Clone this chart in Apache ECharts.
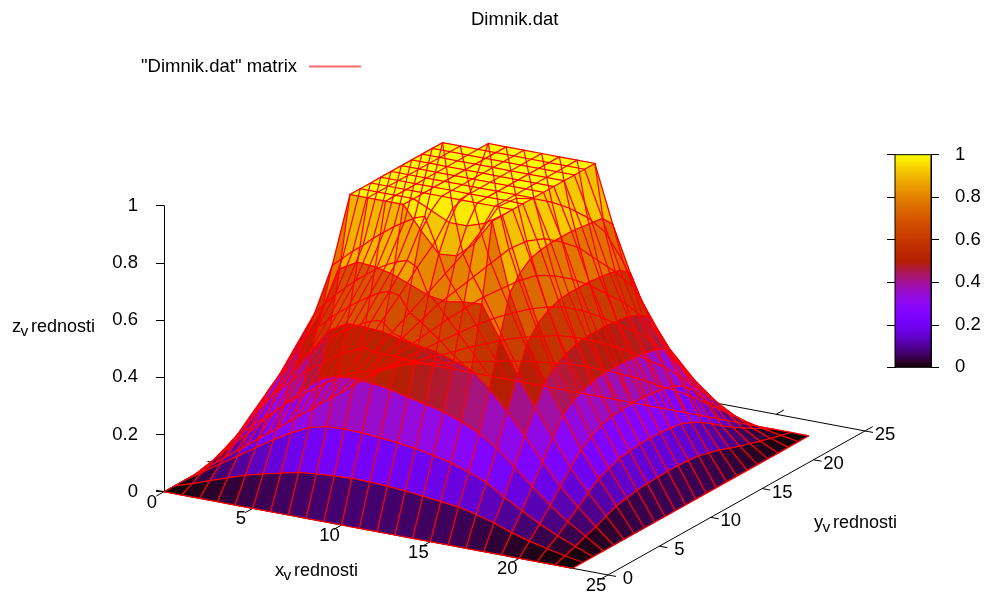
<!DOCTYPE html>
<html><head><meta charset="utf-8">
<style>html,body{margin:0;padding:0;background:#fff}#c{width:984px;height:595px}</style>
<script src="https://cdn.jsdelivr.net/npm/echarts@6/dist/echarts.min.js"></script>
</head><body><div id="c"></div>
<script>
const row00=[0,0,0,0,0,0,0,0,0,0,0,0,0,0,0,0,0,0,0,0,0,0,0,0];
const row01=[0,.02,.042,.063,.084,.1,.115,.129,.135,.14,.143,.142,.139,.134,.127,.12,.113,.098,.08,.058,.04,.025,.012,0];
const row02=[0,.04,.08,.12,.16,.2,.235,.265,.28,.283,.282,.277,.27,.262,.25,.235,.215,.19,.15,.115,.08,.05,.025,0];
const row03=[0,.06,.12,.18,.24,.3,.36,.415,.437,.44,.435,.425,.41,.397,.382,.36,.33,.29,.235,.18,.125,.08,.04,0];
const row04=[0,.075,.155,.24,.32,.4,.485,.565,.6,.6,.595,.58,.57,.56,.54,.52,.465,.4,.325,.245,.17,.11,.053,0];
const row05=[0,.09,.19,.29,.39,.49,.6,.76,.795,.79,.775,.75,.725,.715,.725,.73,.62,.505,.405,.31,.215,.14,.07,0];
const row06=[0,.1,.21,.32,.44,.56,.74,1,1,1,1,.92,.85,.855,.91,1,.76,.6,.475,.37,.26,.17,.085,0];
const row07=[0,.105,.22,.33,.45,.575,.745,1,1,1,1,.97,.94,.94,.96,1,.81,.645,.51,.4,.285,.185,.093,0];
const row08=[0,.11,.225,.34,.46,.585,.75,1,1,1,1,1,1,1,1,1,.84,.67,.53,.42,.305,.2,.1,0];
const row09=[0,.11,.23,.345,.465,.59,.75,1,1,1,1,1,1,1,1,1,.85,.685,.545,.43,.315,.205,.103,0];
const row10=[0,.115,.235,.35,.47,.595,.755,1,1,1,1,1,1,1,1,1,.855,.69,.55,.435,.32,.21,.105,0];
const row11=[0,.115,.235,.35,.47,.595,.755,1,1,1,1,1,1,1,1,1,.855,.69,.55,.435,.32,.21,.106,0];
const row12=[0,.115,.23,.35,.47,.595,.755,1,1,1,1,1,1,1,1,1,.855,.69,.55,.435,.32,.21,.106,0];
const row13=[0,.11,.23,.345,.465,.59,.75,1,1,1,1,1,1,1,1,1,.85,.685,.545,.43,.315,.205,.104,0];
const row14=[0,.11,.225,.34,.46,.58,.745,1,1,1,1,1,1,1,1,1,.845,.68,.54,.425,.31,.2,.1,0];
const row15=[0,.105,.215,.33,.445,.565,.73,1,1,1,1,1,1,1,1,1,.84,.67,.525,.415,.3,.185,.09,0];
const row16=[0,.1,.205,.31,.41,.52,.62,.75,.82,1,1,1,1,1,1,1,.8,.64,.5,.4,.28,.165,.08,0];
const row17=[0,.085,.17,.25,.33,.41,.49,.57,.66,.76,.8,.81,.81,.8,.78,.74,.65,.53,.43,.34,.245,.14,.065,0];
const row18=[0,.07,.14,.21,.28,.35,.41,.47,.53,.59,.63,.65,.65,.64,.61,.58,.54,.44,.35,.27,.19,.112,.053,0];
const row19=[0,.055,.115,.17,.225,.28,.33,.38,.42,.46,.49,.5,.5,.49,.47,.45,.41,.35,.285,.22,.155,.088,.042,0];
const row20=[0,.042,.085,.13,.17,.21,.25,.285,.315,.34,.36,.37,.37,.36,.345,.33,.305,.265,.215,.165,.115,.065,.03,0];
const row21=[0,.028,.056,.085,.11,.14,.165,.19,.21,.225,.24,.245,.245,.24,.23,.215,.2,.175,.145,.11,.075,.043,.02,0];
const row22=[0,.014,.028,.042,.056,.07,.083,.095,.105,.113,.12,.123,.123,.12,.115,.105,.098,.086,.07,.054,.036,.022,.01,0];
const row23=[0,0,0,0,0,0,0,0,0,0,0,0,0,0,0,0,0,0,0,0,0,0,0,0];
const zRows=[row00,row01,row02,row03,row04,row05,row06,row07,row08,row09,row10,row11,row12,row13,row14,row15,row16,row17,row18,row19,row20,row21,row22,row23];
const xTickValues=[0,5,10,15,20,25];
const yTickValues=[0,5,10,15,20,25];
const seriesName='"Dimnik.dat" matrix';

const FONT='"Liberation Sans",Arial,sans-serif', FS=18.5, INK='#000', AX=25;
const O=[164,491.7], EX=[17.76,3.33], EY=[10.28,-5.76], ZS=286;
const proj=(x,y,z)=>[O[0]+x*EX[0]+y*EY[0], O[1]+x*EX[1]+y*EY[1]-z*ZS];
function palette(g){
  const r=Math.sqrt(g), gg=g*g*g, b=Math.max(0,Math.sin(2*Math.PI*g));
  return 'rgb('+Math.round(r*255)+','+Math.round(gg*255)+','+Math.round(b*255)+')';
}
const ny=zRows.length, nx=zRows[0].length;
const facets=[];
for(let j=ny-2;j>=0;j--) for(let i=0;i<nx-1;i++) facets.push([i,j]);
const meshLines=[];
for(let j=0;j<ny;j++) meshLines.push(['y',j]);
for(let i=0;i<nx;i++) meshLines.push(['x',i]);

const base=[];
const seg=(a,b)=>base.push({a:a,b:b});
seg([0,0],[AX,0]);seg([AX,0],[AX,AX]);seg([AX,AX],[0,AX]);seg([0,AX],[0,0]);
xTickValues.forEach(t=>{seg([t,0],[t,-.75]);seg([t,AX],[t,AX+.75]);});
yTickValues.forEach(t=>{seg([0,t],[-.45,t]);seg([AX,t],[AX+.45,t]);});

const texts=[];
xTickValues.forEach(t=>texts.push({t:String(t),p:proj(t,0,0),dx:-12,dy:11}));
yTickValues.forEach(t=>texts.push({t:String(t),p:proj(AX,t,0),dx:20,dy:4}));

function subLabel(a,x,y){
  return [{t:a,p:[x,y],dx:0,dy:0,left:1},{t:'v',p:[x+8.5,y+5],dx:0,dy:0,left:1,fs:15.5},{t:'rednosti',p:[x+19,y],dx:0,dy:0,left:1,fs:18}];
}
texts.push(...subLabel('x',275,571),...subLabel('y',814,523),...subLabel('z',12,327));

const stops=[];for(let i=0;i<=128;i++)stops.push({offset:i/128,color:palette(1-i/128)});

const chart=echarts.init(document.getElementById('c'),null,{renderer:'canvas'});
chart.setOption({
  animation:false,
  backgroundColor:'#fff',
  title:{text:'Dimnik.dat',left:471,top:10,padding:0,textStyle:{fontFamily:FONT,fontSize:FS,fontWeight:'normal',color:INK}},
  legend:{left:141,top:57,padding:0,align:'right',itemWidth:52,itemHeight:2,selectedMode:false,
    data:[{name:seriesName,icon:'rect',itemStyle:{color:'#ff6a6a',borderWidth:0}}],
    textStyle:{fontFamily:FONT,fontSize:FS,color:INK,padding:[0,7,0,0]}},
  grid:[
    {left:0,top:0,width:984,height:595},
    {left:164,top:205.7,width:1,height:286},
    {left:895,top:154.7,width:36,height:212.6}
  ],
  xAxis:[
    {gridIndex:0,type:'value',min:0,max:984,show:false},
    {gridIndex:1,type:'value',min:0,max:1,show:false},
    {gridIndex:2,type:'value',min:0,max:1,show:false}
  ],
  yAxis:[
    {gridIndex:0,type:'value',min:0,max:595,inverse:true,show:false},
    {gridIndex:1,type:'value',min:0,max:1,interval:.2,position:'left',
      axisLine:{show:true,onZero:false,lineStyle:{color:INK,width:1}},axisTick:{show:true,length:8,lineStyle:{color:INK,width:1}},
      splitLine:{show:false},axisLabel:{margin:26,fontFamily:FONT,fontSize:FS,color:INK}},
    {gridIndex:2,type:'value',min:0,max:1,interval:.2,position:'left',
      axisLine:{show:true,onZero:false,lineStyle:{color:INK,width:1}},axisTick:{show:true,length:8,lineStyle:{color:INK,width:1}},
      splitLine:{show:false},axisLabel:{show:false}},
    {gridIndex:2,type:'value',min:0,max:1,interval:.2,position:'right',
      axisLine:{show:true,onZero:false,lineStyle:{color:INK,width:1}},axisTick:{show:true,length:8,lineStyle:{color:INK,width:1}},
      splitLine:{show:false},axisLabel:{margin:24,fontFamily:FONT,fontSize:FS,color:INK}}
  ],
  series:[
    {type:'custom',name:'base',xAxisIndex:0,yAxisIndex:0,silent:true,clip:false,z:1,data:base.map((_,i)=>[i]),
      renderItem(p,api){const s=base[p.dataIndex];
        const a=api.coord(proj(s.a[0],s.a[1],0)), b=api.coord(proj(s.b[0],s.b[1],0));
        return {type:'line',shape:{x1:a[0],y1:a[1],x2:b[0],y2:b[1]},style:{stroke:INK,lineWidth:1}};}},
    {type:'custom',name:'surface',xAxisIndex:0,yAxisIndex:0,silent:true,clip:false,z:2,data:facets,
      renderItem(p,api){const f=facets[p.dataIndex],i=f[0],j=f[1];
        const c=[[i,j],[i+1,j],[i+1,j+1],[i,j+1]];
        const zs=c.map(q=>zRows[q[1]][q[0]]);
        const col=palette((zs[0]+zs[1]+zs[2]+zs[3])/4);
        return {type:'polygon',shape:{points:c.map((q,k)=>api.coord(proj(q[0],q[1],zs[k])))},
          style:{fill:col,stroke:col,lineWidth:.4}};}},
    {type:'custom',name:seriesName,xAxisIndex:0,yAxisIndex:0,silent:true,clip:false,z:3,data:meshLines,
      itemStyle:{color:'#ff0000'},
      renderItem(p,api){const m=meshLines[p.dataIndex],pts=[];
        if(m[0]==='y') for(let i=0;i<nx;i++) pts.push(api.coord(proj(i,m[1],zRows[m[1]][i])));
        else for(let j=0;j<ny;j++) pts.push(api.coord(proj(m[1],j,zRows[j][m[1]])));
        return {type:'polyline',shape:{points:pts},style:{stroke:'#ff0000',lineWidth:1.25,fill:null}};}},
    {type:'custom',name:'ticklabels',xAxisIndex:0,yAxisIndex:0,silent:true,clip:false,z:4,data:texts.map((_,i)=>[i]),
      renderItem(p,api){const t=texts[p.dataIndex],c=api.coord(t.p);
        return {type:'text',x:c[0]+t.dx,y:c[1]+t.dy,style:{text:t.t,fill:INK,font:(t.fs||FS)+'px '+FONT,
          align:t.left?'left':'center',verticalAlign:'middle'}};}},
    {type:'custom',name:'colorbar',xAxisIndex:2,yAxisIndex:2,silent:true,clip:false,z:2,data:[[0,0]],
      renderItem(p,api){const a=api.coord([0,0]),b=api.coord([1,1]);
        return {type:'rect',shape:{x:a[0],y:b[1],width:b[0]-a[0],height:a[1]-b[1]},
          style:{fill:new echarts.graphic.LinearGradient(0,0,0,1,stops),stroke:INK,lineWidth:1}};}}
  ]
});
</script></body></html>
